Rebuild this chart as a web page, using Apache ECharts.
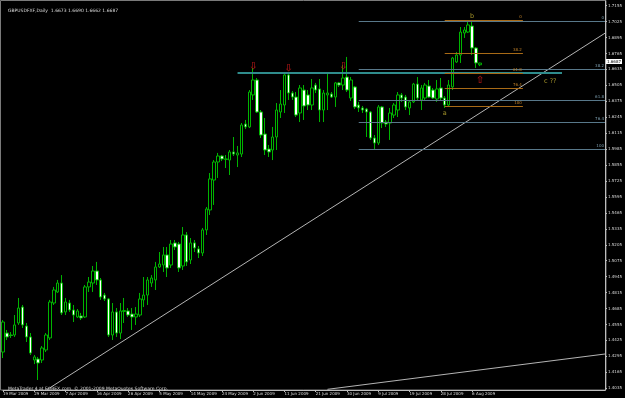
<!DOCTYPE html>
<html>
<head>
<meta charset="utf-8">
<script src="https://cdn.jsdelivr.net/npm/echarts@6/dist/echarts.min.js"></script>
<style>
  html, body { margin: 0; padding: 0; background: #000; }
  #chart { width: 625px; height: 398px; }
</style>
</head>
<body>
<div id="chart"></div>
<script>
// daily bars, 19 Mar 2009 .. 9 Aug 2009 (broker has Sunday bars)
const opens = [
  1.4330, 1.4485, 1.4469, 1.4469, 1.4567, 1.4697, 1.4542, 1.4453, 1.4265, 1.4273,
  1.4265, 1.4347, 1.4445, 1.4730, 1.4820, 1.4893, 1.4657, 1.4730, 1.4673, 1.4616,
  1.4624, 1.4616, 1.4861, 1.4893, 1.4991, 1.4918, 1.4795, 1.4763, 1.4469, 1.4657,
  1.4485, 1.4661, 1.4665, 1.4640, 1.4616, 1.4632, 1.4755, 1.4795, 1.4893, 1.4918,
  1.5024, 1.5040, 1.5122, 1.5040, 1.5220, 1.5211, 1.5032, 1.5285, 1.5081, 1.5220,
  1.5171, 1.5138, 1.5326, 1.5489, 1.5733, 1.5880, 1.5929, 1.5901, 1.5896, 1.5962,
  1.5937, 1.5945, 1.6190, 1.6166, 1.6427, 1.6549, 1.6288, 1.6108, 1.5986, 1.5978,
  1.6084, 1.6288, 1.6345, 1.6590, 1.6443, 1.6410, 1.6280, 1.6467, 1.6427, 1.6345,
  1.6508, 1.6476, 1.6304, 1.6427, 1.6435, 1.6410, 1.6525, 1.6508, 1.6573, 1.6402,
  1.6492, 1.6345, 1.6321, 1.6312, 1.6288, 1.6076, 1.6035, 1.6329, 1.6206, 1.6198,
  1.6263, 1.6304, 1.6427, 1.6410, 1.6321, 1.6370, 1.6516, 1.6386, 1.6402, 1.6500,
  1.6467, 1.6394, 1.6484, 1.6402, 1.6345, 1.6492, 1.6696, 1.6753, 1.6932, 1.6940,
  1.6989, 1.6810, 1.6673
];
const highs = [
  1.4591, 1.4510, 1.4493, 1.4632, 1.4771, 1.4714, 1.4567, 1.4485, 1.4306, 1.4290,
  1.4379, 1.4485, 1.4755, 1.4861, 1.4918, 1.4958, 1.4771, 1.4755, 1.4714, 1.4681,
  1.4649, 1.4877, 1.4942, 1.5032, 1.5065, 1.4934, 1.4812, 1.4771, 1.4730, 1.4689,
  1.4730, 1.4771, 1.4689, 1.4689, 1.4697, 1.4812, 1.4942, 1.4942, 1.4958, 1.5065,
  1.5146, 1.5187, 1.5187, 1.5244, 1.5244, 1.5228, 1.5350, 1.5309, 1.5260, 1.5244,
  1.5195, 1.5342, 1.5513, 1.5790, 1.5896, 1.5954, 1.5937, 1.5937, 1.5978, 1.6084,
  1.6011, 1.6198, 1.6223, 1.6467, 1.6647, 1.6565, 1.6304, 1.6239, 1.6019, 1.6166,
  1.6361, 1.6467, 1.6606, 1.6606, 1.6459, 1.6451, 1.6508, 1.6508, 1.6467, 1.6557,
  1.6525, 1.6557, 1.6467, 1.6606, 1.6451, 1.6533, 1.6533, 1.6671, 1.6737, 1.6573,
  1.6500, 1.6370, 1.6337, 1.6321, 1.6296, 1.6100, 1.6345, 1.6337, 1.6223, 1.6321,
  1.6361, 1.6451, 1.6443, 1.6427, 1.6386, 1.6525, 1.6573, 1.6508, 1.6525, 1.6549,
  1.6484, 1.6549, 1.6565, 1.6418, 1.6549, 1.6737, 1.6777, 1.6981, 1.6981, 1.7038,
  1.7038, 1.6818, 1.6690
];
const lows = [
  1.4281, 1.4428, 1.4445, 1.4453, 1.4551, 1.4526, 1.4412, 1.4306, 1.4232, 1.4102,
  1.4241, 1.4330, 1.4428, 1.4714, 1.4812, 1.4632, 1.4632, 1.4657, 1.4575, 1.4608,
  1.4591, 1.4608, 1.4820, 1.4820, 1.4877, 1.4755, 1.4746, 1.4453, 1.4428, 1.4453,
  1.4436, 1.4567, 1.4616, 1.4510, 1.4551, 1.4616, 1.4697, 1.4714, 1.4861, 1.4836,
  1.5016, 1.4983, 1.4942, 1.5016, 1.5162, 1.4983, 1.4999, 1.5032, 1.5048, 1.5146,
  1.5097, 1.5113, 1.5285, 1.5448, 1.5530, 1.5750, 1.5888, 1.5831, 1.5774, 1.5929,
  1.5839, 1.5921, 1.6149, 1.6157, 1.6386, 1.6280, 1.6076, 1.5937, 1.5921, 1.5896,
  1.5978, 1.6239, 1.6280, 1.6386, 1.6386, 1.6247, 1.6206, 1.6223, 1.6304, 1.6304,
  1.6443, 1.6206, 1.6206, 1.6304, 1.6402, 1.6329, 1.6492, 1.6467, 1.6451, 1.6378,
  1.6312, 1.6288, 1.6280, 1.6084, 1.6060, 1.5986, 1.6019, 1.6157, 1.6166, 1.6060,
  1.6239, 1.6247, 1.6370, 1.6304, 1.6263, 1.6361, 1.6386, 1.6304, 1.6386, 1.6402,
  1.6394, 1.6370, 1.6386, 1.6321, 1.6329, 1.6467, 1.6688, 1.6688, 1.6892, 1.6932,
  1.6753, 1.6647, 1.6662
];
const closes = [
  1.4575, 1.4453, 1.4465, 1.4551, 1.4689, 1.4551, 1.4453, 1.4322, 1.4290, 1.4241,
  1.4363, 1.4469, 1.4738, 1.4836, 1.4893, 1.4649, 1.4738, 1.4673, 1.4632, 1.4665,
  1.4608, 1.4861, 1.4901, 1.4991, 1.4918, 1.4779, 1.4763, 1.4469, 1.4657, 1.4485,
  1.4665, 1.4669, 1.4632, 1.4616, 1.4640, 1.4763, 1.4795, 1.4918, 1.4934, 1.5024,
  1.5048, 1.5122, 1.5016, 1.5211, 1.5187, 1.5016, 1.5285, 1.5065, 1.5220, 1.5179,
  1.5138, 1.5326, 1.5497, 1.5742, 1.5880, 1.5929, 1.5905, 1.5905, 1.5962, 1.5945,
  1.5954, 1.6182, 1.6166, 1.6451, 1.6549, 1.6288, 1.6100, 1.5978, 1.5962, 1.6084,
  1.6304, 1.6353, 1.6590, 1.6443, 1.6410, 1.6263, 1.6484, 1.6337, 1.6345, 1.6484,
  1.6467, 1.6304, 1.6443, 1.6443, 1.6410, 1.6525, 1.6508, 1.6565, 1.6467, 1.6549,
  1.6329, 1.6321, 1.6304, 1.6288, 1.6076, 1.6035, 1.6329, 1.6198, 1.6190, 1.6280,
  1.6345, 1.6427, 1.6402, 1.6329, 1.6370, 1.6516, 1.6402, 1.6484, 1.6508, 1.6410,
  1.6402, 1.6476, 1.6402, 1.6345, 1.6508, 1.6728, 1.6753, 1.6940, 1.6957, 1.6998,
  1.6810, 1.6688, 1.6687
];

// one date label every 8 bars
const dateLabels = [
  "19 Mar 2009", "29 Mar 2009", "7 Apr 2009", "16 Apr 2009", "26 Apr 2009",
  "5 May 2009", "14 May 2009", "24 May 2009", "2 Jun 2009", "11 Jun 2009",
  "21 Jun 2009", "30 Jun 2009", "9 Jul 2009", "19 Jul 2009", "28 Jul 2009",
  "6 Aug 2009",
];
const priceTicks = [
  1.4035, 1.4165, 1.4295, 1.4425, 1.4555, 1.4685, 1.4815, 1.4945, 1.5075,
  1.5205, 1.5335, 1.5465, 1.5595, 1.5725, 1.5855, 1.5985, 1.6115, 1.6245,
  1.6375, 1.6505, 1.6635, 1.6765, 1.6895, 1.7025, 1.7155,
];

// drawn objects
const fibLevels = ["0", "38.2", "61.8", "76.4", "100"];
const fibBigPrices = [1.7030, 1.6636, 1.6383, 1.6206, 1.5986]; // bar 91 -> right edge
const fibSmallPrices = [1.7036, 1.6767, 1.6608, 1.6481, 1.6334]; // bar 113 -> 133
const resistance = 1.6608; // bar 60 -> 143
const trendMain = [[11, 1.4018], [154, 1.6931]];
const trendLow = [[83, 1.4026], [154, 1.4314]];
const topArrows = [[64, 1.6656], [73, 1.6643], [87, 1.6656]];
const waveLabels = [
  { text: "b", pos: [120, 1.7065] },
  { text: "a", pos: [113, 1.6280] },
  { text: "c ??", pos: [140, 1.6541] },
];
const upArrow = [122, 1.6549];
const lastClose = 1.6687;

const totalBars = 155;
const cats = [];
for (let i = 0; i < totalBars; i++) cats.push(String(i));
const candles = opens.map((o, i) => [o, closes[i], lows[i], highs[i]]);

const FONT = "DejaVu Sans";
const axisGray = "#bdbdbd";
const txt = "#dcdcdc";

const fibSeries = (prices, from, to, color, labelColor) => ({
  type: "line",
  data: [],
  silent: true,
  markLine: {
    symbol: "none",
    silent: true,
    animation: false,
    lineStyle: { color: color, width: 1, type: "solid" },
    label: {
      position: "insideEndTop",
      distance: 1,
      color: labelColor,
      fontSize: 4,
      fontFamily: FONT,
    },
    data: prices.map((p, i) => [
      { coord: [from, p], label: { formatter: fibLevels[i] } },
      { coord: [to, p] },
    ]),
  },
});

const chart = echarts.init(document.getElementById("chart"));

const option = {
  backgroundColor: "#000",
  animation: false,
  title: [
    {
      text: "GBPUSDFXF,Daily  1.6673 1.6690 1.6662 1.6687",
      left: 3,
      top: 3,
      textStyle: { color: txt, fontSize: 4.5, fontWeight: "normal", fontFamily: FONT },
    },
    {
      text: "MetaTrader 4 at FOREX.com, © 2001-2009 MetaQuotes Software Corp.",
      left: 3,
      top: 381,
      textStyle: { color: txt, fontSize: 4.5, fontWeight: "normal", fontFamily: FONT },
    },
  ],
  graphic: [
    {
      type: "rect",
      silent: true,
      z: -1,
      shape: { x: 0.5, y: 0.5, width: 605.5, height: 389.5 },
      style: { fill: null, stroke: "#7a7a7a", lineWidth: 1 },
    },
  ],
  grid: { left: 2, right: 19, top: 1, bottom: 8 },
  xAxis: {
    type: "category",
    data: cats,
    boundaryGap: false,
    axisLine: { lineStyle: { color: axisGray, width: 1 } },
    axisTick: {
      interval: (i) => i % 8 === 0 && i / 8 < dateLabels.length,
      length: 2,
      lineStyle: { color: axisGray },
    },
    axisLabel: {
      interval: (i) => i % 8 === 0 && i / 8 < dateLabels.length,
      formatter: (v, i) => dateLabels[i / 8] || "",
      align: "left",
      margin: 2,
      color: txt,
      fontSize: 4,
      fontFamily: FONT,
    },
    splitLine: { show: false },
  },
  yAxis: {
    type: "value",
    position: "right",
    scale: true,
    min: 1.40204,
    max: 1.71933,
    axisLine: { show: true, lineStyle: { color: axisGray, width: 1 } },
    axisTick: { show: true, length: 2, customValues: priceTicks, lineStyle: { color: axisGray } },
    axisLabel: {
      customValues: priceTicks,
      formatter: (v) => v.toFixed(4),
      margin: 3,
      color: txt,
      fontSize: 4,
      fontFamily: FONT,
    },
    splitLine: { show: false },
  },
  series: [
    {
      type: "candlestick",
      data: candles,
      barWidth: 3,
      clip: false,
      z: 3,
      itemStyle: {
        color: "#000000",
        color0: "#ffffff",
        borderColor: "#00b400",
        borderColor0: "#00b400",
        borderWidth: 1,
      },
      markLine: {
        symbol: "none",
        silent: true,
        animation: false,
        lineStyle: { color: "rgba(0,0,0,0)", width: 0 },
        label: {
          position: "end",
          distance: 1,
          formatter: lastClose.toFixed(4),
          color: "#000",
          backgroundColor: "#ffffff",
          padding: [1, 1, 0, 1],
          fontSize: 4,
          fontFamily: FONT,
        },
        data: [{ yAxis: lastClose }],
      },
    },
    {
      type: "line",
      data: [],
      silent: true,
      z: 2,
      markLine: {
        symbol: "none",
        silent: true,
        animation: false,
        lineStyle: { color: "#2f8c8c", width: 2, type: "solid" },
        label: { show: false },
        data: [[{ coord: [60, resistance] }, { coord: [143, resistance] }]],
      },
    },
    fibSeries(fibBigPrices, 91, 154, "#58788a", "#7d9fb0"),
    fibSeries(fibSmallPrices, 113, 133, "#a86a16", "#c08028"),
    {
      type: "line",
      data: trendMain,
      symbol: "none",
      silent: true,
      lineStyle: { color: "#b4b4b4", width: 1 },
    },
    {
      type: "line",
      data: trendLow,
      symbol: "none",
      silent: true,
      lineStyle: { color: "#b4b4b4", width: 1 },
    },
    {
      type: "scatter",
      symbolSize: 0,
      silent: true,
      z: 5,
      label: { show: true, position: "inside", fontFamily: FONT },
      data: [
        ...topArrows.map((p) => ({
          value: p,
          label: { formatter: "⇩", color: "#c01818", fontSize: 10, fontWeight: "bold" },
        })),
        {
          value: upArrow,
          label: { formatter: "⇧", color: "#c01818", fontSize: 10, fontWeight: "bold" },
        },
        ...waveLabels.map((w) => ({
          value: w.pos,
          label: { formatter: w.text, color: "#c8b432", fontSize: 6.5 },
        })),
      ],
    },
  ],
};

chart.setOption(option);
</script>
</body>
</html>
